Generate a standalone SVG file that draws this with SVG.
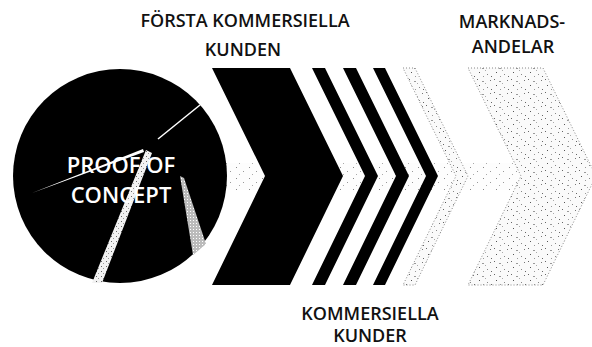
<svg xmlns="http://www.w3.org/2000/svg" width="592" height="347" viewBox="0 0 592 347">
  <defs>
    <pattern id="speck" width="17" height="13" patternUnits="userSpaceOnUse">
      <rect width="17" height="13" fill="#fafafa"/>
      <rect x="1" y="1" width="1" height="1" fill="#666"/>
      <rect x="6" y="3" width="2" height="1" fill="#999"/>
      <rect x="3" y="7" width="1" height="1" fill="#555"/>
      <rect x="11" y="9" width="1" height="1" fill="#888"/>
      <rect x="14" y="2" width="1" height="1" fill="#777"/>
      <rect x="9" y="5" width="1" height="1" fill="#aaa"/>
      <rect x="15" y="11" width="1" height="1" fill="#666"/>
      <rect x="7" y="11" width="1" height="1" fill="#999"/>
    </pattern>
    <pattern id="speckLight" width="13" height="11" patternUnits="userSpaceOnUse">
      <rect width="13" height="11" fill="#fdfdfd"/>
      <rect x="2" y="2" width="1" height="1" fill="#888"/>
      <rect x="9" y="6" width="1" height="1" fill="#999"/>
      <rect x="5" y="9" width="1" height="1" fill="#aaa"/>
    </pattern>
    <pattern id="beam" width="5" height="5" patternUnits="userSpaceOnUse">
      <rect width="5" height="5" fill="#f2f2f2"/>
      <rect x="1" y="1" width="1" height="1" fill="#666"/>
      <rect x="3" y="3" width="1" height="1" fill="#999"/>
    </pattern>
    <pattern id="beam2" width="3" height="3" patternUnits="userSpaceOnUse">
      <rect width="3" height="3" fill="#bbb"/>
      <rect x="1" y="1" width="1" height="1" fill="#fff"/>
    </pattern>
  </defs>
  <style>
    .lbl { font-family: "Open Sans", "Liberation Sans", sans-serif; font-weight: 600; font-size: 18px; fill: #111; text-anchor: middle; }
    .in { font-family: "Open Sans", "Liberation Sans", sans-serif; font-weight: 600; font-size: 22px; fill: #fff; text-anchor: middle; }
    .blk { fill: #000; }
    .spk { fill: url(#speck); stroke: #888; stroke-width: 1; stroke-dasharray: 1 2; }
  </style>
  <rect width="592" height="347" fill="#fff"/>

  <g id="connectors">
    <rect x="225" y="163" width="300" height="27" fill="url(#speckLight)"/>
  </g>

  <g id="proof-of-concept">
    <circle cx="120" cy="176" r="107" class="blk"/>
    <line x1="200" y1="105" x2="158" y2="139" stroke="#fff" stroke-width="1.5"/>
    <polygon points="32,193 143,149 144,152" fill="#fff"/>
    <polygon points="146,150 152,153 102,283 92,283" fill="url(#beam)"/>
    <polygon points="180,176 184,178 206,244 193,255" fill="url(#beam2)"/>
    <text class="in" x="121" y="173">PROOF OF</text>
    <text class="in" x="121" y="203">CONCEPT</text>
  </g>

  <g id="forsta-kunden">
    <polygon class="blk" points="212,68 290,68 343,176 290,285 212,285 265,176"/>
  </g>

  <g id="kommersiella-kunder">
    <polygon class="blk" points="312,68 325,68 378,176 325,285 312,285 365,176"/>
    <polygon class="blk" points="343,68 356,68 409,176 356,285 343,285 396,176"/>
    <polygon class="blk" points="373,68 385,68 438,176 385,285 373,285 426,176"/>
    <polygon class="spk" points="403,68 415,68 468,176 415,285 403,285 456,176"/>
  </g>

  <g id="marknadsandelar">
    <polygon class="spk" points="468,68 543,68 596,176 543,285 468,285 521,176"/>
  </g>

  <g id="labels">
    <text class="lbl" x="245" y="27">FÖRSTA KOMMERSIELLA</text>
    <text class="lbl" x="243" y="56">KUNDEN</text>
    <text class="lbl" x="512" y="28">MARKNADS-</text>
    <text class="lbl" x="513" y="53">ANDELAR</text>
    <text class="lbl" x="370" y="320">KOMMERSIELLA</text>
    <text class="lbl" x="370" y="342">KUNDER</text>
  </g>
</svg>
